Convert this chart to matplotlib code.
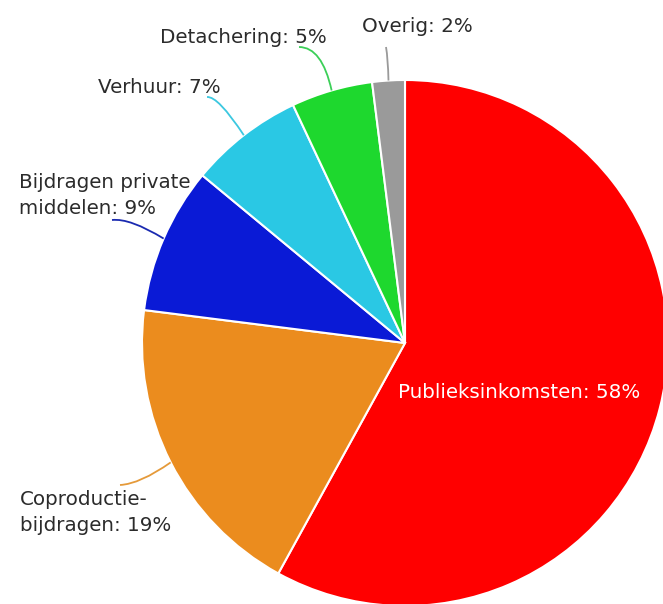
import matplotlib
matplotlib.use("Agg")
import matplotlib.pyplot as plt
import numpy as np
from matplotlib.path import Path
from matplotlib.patches import PathPatch

categories = ["Publieksinkomsten", "Coproductie-\nbijdragen", "Bijdragen private\nmiddelen",
              "Verhuur", "Detachering", "Overig"]
values = [58, 19, 9, 7, 5, 2]
colors = ["#FF0000", "#EB8C1E", "#0A1AD6", "#2AC8E4", "#1ED82E", "#9A9A9A"]
line_colors = ["#FF0000", "#E59A3A", "#1A2AB0", "#3CC8E0", "#3CCF58", "#9A9A9A"]

W, H = 663, 604
fig = plt.figure(figsize=(W / 100, H / 100), dpi=100)
ax = fig.add_axes([0, 0, 1, 1])

cx, cy_px, R = 405, 343, 263
cy = H - cy_px

wedges, _ = ax.pie(values, colors=colors, startangle=90, counterclock=False,
                   center=(cx, cy), radius=R,
                   wedgeprops=dict(edgecolor="white", linewidth=1.5))
ax.set_xlim(0, W)
ax.set_ylim(0, H)
ax.set_aspect("auto")
ax.axis("off")

font = "DejaVu Sans"
fs = 14.3
tc = "#2b2b2b"

layout = {
    "Overig": dict(x=362, y=32, end=(386, 47), ctrl=(388, 58)),
    "Detachering": dict(x=160, y=43, end=(299, 47), ctrl=(322, 47)),
    "Verhuur": dict(x=98, y=93, end=(207, 97), ctrl=(218, 96)),
    "Bijdragen private\nmiddelen": dict(x=19, y=188, end=(112, 220), ctrl=(130, 218)),
    "Coproductie-\nbijdragen": dict(x=20, y=505, end=(120, 485), ctrl=(140, 484)),
}

for w, cat, val, lc in zip(wedges, categories, values, line_colors):
    label = f"{cat}: {val}%"
    if cat == "Publieksinkomsten":
        ax.text(398, H - 398, label, color="white", fontsize=fs, family=font,
                ha="left", va="baseline")
        continue
    L = layout[cat]
    mid = np.deg2rad((w.theta1 + w.theta2) / 2)
    sx, sy = cx + R * np.cos(mid), cy + R * np.sin(mid)
    ex, ey = L["end"]
    qx, qy = L["ctrl"]
    path = Path([(ex, H - ey), (qx, H - qy), (sx, sy)],
                [Path.MOVETO, Path.CURVE3, Path.CURVE3])
    ax.add_patch(PathPatch(path, fill=False, edgecolor=lc, linewidth=1.3))
    for i, line in enumerate(label.split("\n")):
        ax.text(L["x"], H - (L["y"] + i * 26), line, color=tc, fontsize=fs,
                family=font, ha="left", va="baseline")

fig.savefig("out.png", dpi=100, facecolor="white")
